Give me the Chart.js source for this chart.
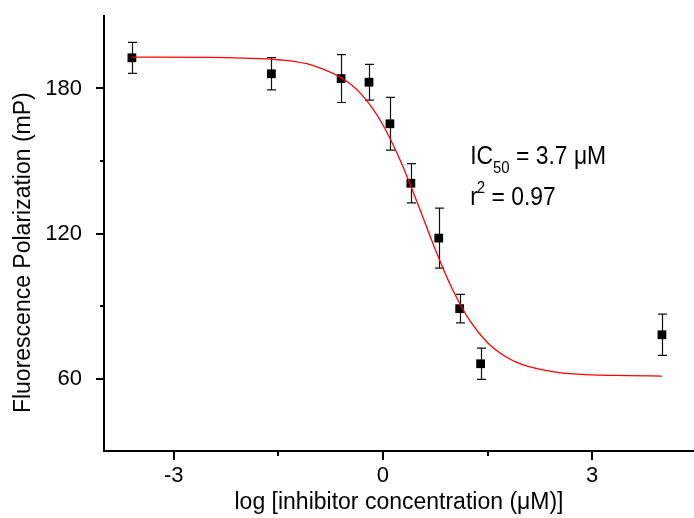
<!DOCTYPE html>
<html>
<head>
<meta charset="utf-8">
<script src="https://cdn.jsdelivr.net/npm/chart.js@4"></script>
<style>
  html, body { margin: 0; padding: 0; background: #fff; }
</style>
</head>
<body>
<canvas id="ic50Chart" width="694" height="518"></canvas>
<script>
// measured points
const logConc = [-3.6, -1.6, -0.6, -0.2, 0.1, 0.4, 0.8, 1.1, 1.4, 4.0];
const polarization = [192.7, 186.1, 184.1, 182.6, 165.4, 140.8, 118.1, 88.9, 66.1, 78.1];
const polarizationErr = [6.4, 6.7, 9.9, 7.4, 10.9, 8.1, 12.4, 5.9, 6.5, 8.5];

// fitted curve
const fitX = [-3.6, -2.5, -2, -1.5, -1, -0.5, -0.25, 0, 0.25, 0.5, 0.75, 1, 1.25, 1.5, 1.75, 2, 2.5, 3, 3.5, 4.0];
const fitY = [193.0, 192.9, 192.6, 191.9, 189.5, 182.6, 175.6, 164.9, 150.1, 132.2, 113.4, 96.7, 83.7, 74.8, 69.2, 65.7, 62.5, 61.5, 61.2, 61.0];

const xTickValues = [-3, 0, 3];
const xMinorTicks = [-1.5, 1.5];
const yTickValues = [60, 120, 180];
const yMinorTicks = [90, 150];

const FONT = '"Liberation Sans", Arial, sans-serif';
Chart.defaults.font.family = FONT;
Chart.defaults.color = '#000';

const errorBars = {
    id: 'errorBars',
    beforeDatasetsDraw(chart) {
        const { ctx, scales: { x, y } } = chart;
        ctx.save();
        ctx.strokeStyle = '#111';
        ctx.lineWidth = 1.2;
        logConc.forEach((v, i) => {
            const px = Math.round(x.getPixelForValue(v)) + 0.5;
            const top = y.getPixelForValue(polarization[i] + polarizationErr[i]);
            const bot = y.getPixelForValue(polarization[i] - polarizationErr[i]);
            ctx.beginPath();
            ctx.moveTo(px, top);
            ctx.lineTo(px, bot);
            ctx.moveTo(px - 4.5, top);
            ctx.lineTo(px + 4.5, top);
            ctx.moveTo(px - 4.5, bot);
            ctx.lineTo(px + 4.5, bot);
            ctx.stroke();
        });
        ctx.restore();
    }
};

const axisTicks = {
    id: 'axisTicks',
    afterDraw(chart) {
        const { ctx, chartArea, scales: { x, y } } = chart;
        ctx.save();
        ctx.strokeStyle = '#000';
        ctx.lineWidth = 2;
        ctx.beginPath();
        xTickValues.concat(xMinorTicks).forEach(v => {
            const px = Math.round(x.getPixelForValue(v));
            const len = xTickValues.includes(v) ? 9 : 5;
            ctx.moveTo(px, chartArea.bottom);
            ctx.lineTo(px, chartArea.bottom + len);
        });
        yTickValues.concat(yMinorTicks).forEach(v => {
            const py = Math.round(y.getPixelForValue(v));
            const len = yTickValues.includes(v) ? 8 : 4;
            ctx.moveTo(chartArea.left, py);
            ctx.lineTo(chartArea.left - len, py);
        });
        ctx.stroke();
        ctx.restore();
    }
};

// IC50 / r² text
const fitLabel = {
    id: 'fitLabel',
    afterDraw(chart) {
        const { ctx, scales: { x, y } } = chart;
        const left = x.getPixelForValue(1.25);
        const line1 = y.getPixelForValue(148.6);
        const line2 = y.getPixelForValue(132);
        ctx.save();
        ctx.fillStyle = '#000';
        ctx.textBaseline = 'alphabetic';
        ctx.translate(left, 0);
        ctx.scale(0.88, 1);
        let cx = 0;
        ctx.font = '26px ' + FONT;
        ctx.fillText('IC', cx, line1);
        cx += ctx.measureText('IC').width;
        ctx.font = '17px ' + FONT;
        ctx.fillText('50', cx, line1 + 9);
        cx += ctx.measureText('50').width;
        ctx.font = '26px ' + FONT;
        ctx.fillText(' = 3.7 \u03bcM', cx, line1);

        cx = 0;
        ctx.fillText('r', cx, line2);
        cx += ctx.measureText('r').width;
        ctx.font = '17px ' + FONT;
        ctx.fillText('2', cx - 1, line2 - 12);
        cx += ctx.measureText('2').width - 1;
        ctx.font = '26px ' + FONT;
        ctx.fillText(' = 0.97', cx, line2);
        ctx.restore();
    }
};

const config = {
    type: 'scatter',
    data: {
        datasets: [
            {
                label: 'fit',
                type: 'line',
                data: fitX.map((v, i) => ({ x: v, y: fitY[i] })),
                borderColor: '#ff0000',
                borderWidth: 1.3,
                pointRadius: 0,
                fill: false,
                cubicInterpolationMode: 'monotone',
                order: 0,
            },
            {
                label: 'data',
                data: logConc.map((v, i) => ({ x: v, y: polarization[i] })),
                pointStyle: 'rect',
                pointRadius: 6.2,
                backgroundColor: '#000',
                borderColor: '#000',
                borderWidth: 0,
                order: 1,
            },
        ],
    },
    options: {
        responsive: false,
        animation: false,
        layout: { autoPadding: false, padding: { top: 16, right: 0, left: 0, bottom: 0 } },
        plugins: {
            legend: { display: false },
            tooltip: { enabled: false },
        },
        scales: {
            x: {
                type: 'linear',
                min: -4.0,
                max: 4.46,
                grid: { display: false },
                border: { display: true, color: '#000', width: 2 },
                afterBuildTicks: (scale) => { scale.ticks = xTickValues.map(v => ({ value: v })); },
                afterFit: (scale) => {
                    scale.height = 67;
                    scale.paddingLeft = 0;
                    scale.paddingRight = 0;
                },
                ticks: {
                    font: { size: 22 },
                    padding: 4,
                    maxRotation: 0,
                    callback: (v) => String(v),
                },
                title: {
                    display: true,
                    text: 'log [inhibitor concentration (\u03bcM)]',
                    font: { size: 23 },
                    padding: { top: 0, bottom: 2 },
                },
            },
            y: {
                type: 'linear',
                min: 30,
                max: 210,
                grid: { display: false },
                border: { display: true, color: '#000', width: 2 },
                afterBuildTicks: (scale) => { scale.ticks = yTickValues.map(v => ({ value: v })); },
                afterFit: (scale) => {
                    scale.width = 104;
                    scale.paddingTop = 0;
                    scale.paddingBottom = 0;
                },
                ticks: {
                    font: { size: 22 },
                    padding: 14,
                    callback: (v) => String(v),
                },
                title: {
                    display: true,
                    text: 'Fluorescence Polarization (mP)' + '\u00a0'.repeat(6),
                    font: { size: 23 },
                    padding: { top: 10, bottom: 0 },
                },
            },
        },
    },
    plugins: [errorBars, axisTicks, fitLabel],
};

const ic50Chart = new Chart(document.getElementById('ic50Chart'), config);
</script>
</body>
</html>
